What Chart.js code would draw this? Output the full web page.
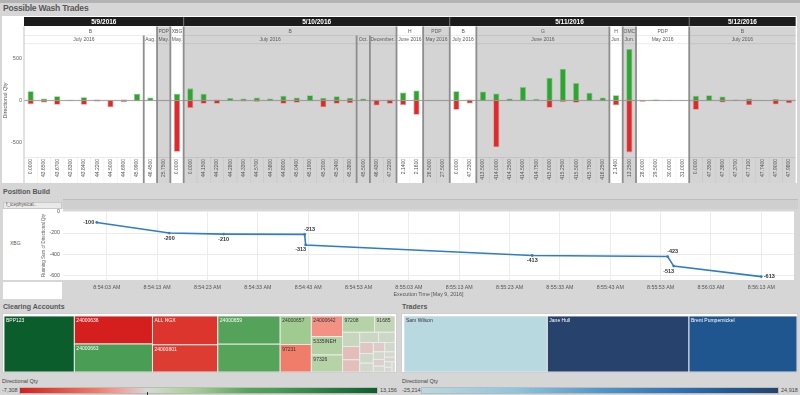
<!DOCTYPE html>
<html><head><meta charset="utf-8">
<script src="https://cdn.jsdelivr.net/npm/chart.js@4.4.1/dist/chart.umd.min.js"></script>
<style>
html,body{margin:0;padding:0;}
body{width:800px;height:395px;overflow:hidden;background:#d6d6d6;position:relative;font-family:"Liberation Sans",Arial,sans-serif;}
.abs{position:absolute;}
.ttl{position:absolute;font-weight:bold;color:#585858;white-space:nowrap;line-height:1;}
.sm{position:absolute;font-size:5.5px;color:#444;white-space:nowrap;line-height:1;}
canvas{position:absolute;display:block;}
</style></head><body>
<div class="abs" style="left:0;top:0;width:800px;height:3px;background:#b3b3b3"></div>
<div class="ttl" style="left:3px;top:4px;font-size:8.6px;letter-spacing:-0.25px">Possible Wash Trades</div>
<div class="abs" style="left:2px;top:16px;width:795px;height:167px;background:#fff"></div>
<canvas id="bars" width="795" height="167" style="left:2px;top:16px"></canvas>

<div class="ttl" style="left:3px;top:188px;font-size:7px">Position Build</div>
<div class="abs" style="left:63px;top:199px;width:735px;height:10px;background:#cfcfcf;border-top:1px solid #bdbdbd;box-sizing:border-box"></div>
<div class="abs" style="left:3px;top:202px;width:59px;height:7px;background:#e9e9e9;border:1px solid #c9c9c9;box-sizing:border-box"></div>
<div class="sm" style="left:6px;top:203px;font-size:4.8px;color:#555">f_icephysical..</div>
<div class="abs" style="left:3px;top:209px;width:60px;height:71px;background:#fff"></div>
<div class="abs" style="left:3px;top:282px;width:59px;height:17px;background:#fff"></div>
<div class="sm" id="rowLabel" style="left:10px;top:241px;font-size:5px;color:#555"></div>
<canvas id="line" width="757" height="95" style="left:41px;top:205px"></canvas>

<div class="ttl" style="left:3px;top:303px;font-size:7px">Clearing Accounts</div>
<div class="abs" style="left:2px;top:313px;width:395px;height:60px;background:#fff;border:1px solid #cfcfcf;box-sizing:border-box"></div>
<canvas id="acct" width="391" height="56" style="left:4px;top:316px"></canvas>
<div class="sm" style="left:2px;top:379px">Directional Qty</div>
<div class="sm" id="acctMin" style="left:2px;top:388px"></div>
<div class="abs" id="acctBar" style="left:19px;top:387px;width:359px;height:7px;border:1px solid #bbb;box-sizing:border-box"></div>
<div class="abs" id="acctZero" style="top:392px;width:1px;height:3px;background:#333"></div>
<div class="sm" id="acctMax" style="left:380px;top:388px"></div>

<div class="ttl" style="left:402px;top:303px;font-size:7px">Traders</div>
<div class="abs" style="left:401px;top:313px;width:397px;height:60px;background:#fff;border:1px solid #cfcfcf;box-sizing:border-box"></div>
<canvas id="trd" width="393" height="56" style="left:404px;top:316px"></canvas>
<div class="sm" style="left:402px;top:379px">Directional Qty</div>
<div class="sm" id="trdMin" style="left:402px;top:388px"></div>
<div class="abs" id="trdBar" style="left:421px;top:387px;width:358px;height:7px;border:1px solid #bbb;box-sizing:border-box"></div>
<div class="sm" id="trdMax" style="left:781px;top:388px"></div>

<script>
// ---------------- DATA ----------------
const dateGroups = [['5/9/2016',12],['5/10/2016',20],['5/11/2016',18],['5/12/2016',8]];
const commodityGroups = [['B',10],['PDP',1],['XBG',1],['B',16],['H',2],['PDP',2],['B',2],['G',10],['H',1],['OMC',1],['PDP',4],['B',8]];
const monthGroups = [['July 2016',9],['Aug.',1],['May.',1],['May.',1],['July 2016',13],['Oct.',1],['December..',2],['June 2016',2],['May 2016',2],['July 2016',2],['June 2016',10],['Jun.',1],['Jun.',1],['May 2016',4],['July 2016',8]];
const priceLabels = ['0.0000','43.6500','43.6700','43.8300','43.8400','44.2200','44.5000','44.6900','45.9900','46.4500','25.7500','0.0000',
 '0.0000','44.1500','44.2200','44.2800','44.3300','44.5700','44.5800','44.8000','45.0400','45.1900','45.2000','45.2400','45.3800','45.5000','46.4300','47.2200','2.1400','2.1610','26.5000','27.5000',
 '0.0000','47.2300','413.5000','414.0000','414.2500','414.5000','414.7500','415.0000','415.2500','415.5000','415.7500','416.2500','2.1400','13.2500','28.0000','29.5000','30.0000','31.0000',
 '0.0000','47.3500','47.3600','47.3700','47.7100','47.7400','47.9000','47.9800'];
const buyQty = [110,25,50,10,40,12,4,12,80,35,3,80,
 145,80,12,30,25,36,25,56,36,64,32,52,32,24,8,12,95,120,3,3,
 110,12,108,84,24,160,20,272,380,208,92,36,64,615,3,12,4,4,
 56,64,48,12,24,4,20,8];
const sellQty = [-45,-25,-50,-3,-50,-12,-80,-20,-10,-3,-3,-613,
 -90,-40,-40,-5,-12,-15,-5,-40,-28,-8,-80,-40,-32,-4,-60,-40,-55,-170,-3,-3,
 -110,-36,-3,-560,-5,-3,-3,-88,-20,-28,-8,-8,-56,-620,-16,-3,-4,-4,
 -112,-8,-24,-4,-56,-4,-48,-32];
const qtyTicks = [-500,0,500];

const positionRow = 'XBG';
const execSeconds = [1,15.4,26.2,42.3,42.5,87.5,114.4,115.6,133]; // seconds after 8:54:00 AM
const runningQty = [-100,-200,-210,-213,-313,-413,-423,-513,-613];
const timeTicks = [3,13,23,33,43,53,63,73,83,93,103,113,123,133];
const runTicks = [0,-200,-400,-600];

const accountNames = ['BPP123','24000636','24000663','ALL NGX','24000801','24000659','','24000657','97231','24000642','5335INEH','97326','97208','91685',
 '','','','','','','','','','','','','','','','','',''];
const accountQty = [13156,-7308,7300,-6290,-5930,5870,5790,2970,-2860,-2150,1910,1770,1740,1110,
 820,-760,-700,640,560,-500,440,400,-360,320,280,-250,220,190,-160,140,120,100];
const traderNames = ['Sam Wilson','Jane Hull','Brent Pumpernickel'];
const traderQty = [-25214,24918,19000];

// ---------------- STYLES ----------------
const PANEL_GRAY = '#d4d4d4';
const acctStops = [[-7308,'#d51f1f'],[-6000,'#dd3b31'],[-2900,'#f07b69'],[-2000,'#f4958a'],[-500,'#dfc6c2'],[0,'#d6d8d3'],[500,'#cdd8c6'],[1800,'#b5d3a6'],[3000,'#9ecb8f'],[5800,'#56a35a'],[7300,'#4a9d54'],[13156,'#0b5e2b']];
const trdStops = [[-25214,'#b9d9e0'],[-12000,'#8cc6df'],[0,'#4f96cb'],[12000,'#2e6db0'],[19000,'#1f5690'],[24918,'#27436d']];

function hex(h){return [parseInt(h.slice(1,3),16),parseInt(h.slice(3,5),16),parseInt(h.slice(5,7),16)];}
function colorFor(v,stops){
  if(v<=stops[0][0]) return stops[0][1];
  for(let i=1;i<stops.length;i++){
    if(v<=stops[i][0]){
      const t=(v-stops[i-1][0])/(stops[i][0]-stops[i-1][0]);
      const a=hex(stops[i-1][1]), b=hex(stops[i][1]);
      return 'rgb('+a.map((c,k)=>Math.round(c+(b[k]-c)*t)).join(',')+')';
    }
  }
  return stops[stops.length-1][1];
}
function lum(c){const m=c.match(/\d+/g);let r,g,b;if(m&&c.startsWith('rgb')){[r,g,b]=m.map(Number);}else{[r,g,b]=hex(c);}return 0.299*r+0.587*g+0.114*b;}

// ---------------- BAR CHART ----------------
const ROW1=1, ROW2=10.5, ROW3=19.5;
const headerPlugin = {
  id:'headers',
  beforeDraw(chart){
    const {ctx, chartArea:ca, scales:{x}} = chart;
    const H = chart.height;
    const edge = i => x.getPixelForValue(i-0.5);
    ctx.save();
    let s=0;
    commodityGroups.forEach((g,k)=>{
      const x0=edge(s), x1=edge(s+g[1]);
      ctx.fillStyle = k%2 ? PANEL_GRAY : '#ffffff';
      ctx.fillRect(x0, ROW2, x1-x0, H-ROW2);
      s+=g[1];
    });
    // date row
    ctx.fillStyle='#1c1c1c';
    ctx.fillRect(ca.left, ROW1, ca.right-ca.left, ROW2-ROW1-0.5);
    ctx.textAlign='center'; ctx.textBaseline='middle';
    s=0;
    dateGroups.forEach((g,k)=>{
      const x0=edge(s), x1=edge(s+g[1]);
      ctx.fillStyle='#ffffff'; ctx.font='bold 6.5px "Liberation Sans", Arial';
      ctx.fillText(g[0],(x0+x1)/2,(ROW1+ROW2)/2);
      if(k>0){ctx.fillStyle='#777';ctx.fillRect(x0-0.5,ROW1,1,ROW2-ROW1-0.5);}
      s+=g[1];
    });
    ctx.font='5px "Liberation Sans", Arial'; ctx.fillStyle='#5a5a5a';
    s=0;
    commodityGroups.forEach(g=>{const x0=edge(s),x1=edge(s+g[1]);ctx.fillText(g[0],(x0+x1)/2,(ROW2+ROW3)/2+0.3);s+=g[1];});
    s=0;
    monthGroups.forEach(g=>{const x0=edge(s),x1=edge(s+g[1]);ctx.fillText(g[0],(x0+x1)/2,(ROW3+ca.top)/2+0.3);s+=g[1];});
    // light row borders
    ctx.fillStyle='rgba(0,0,0,0.13)';
    ctx.fillRect(ca.left, ROW3-0.5, ca.right-ca.left, 0.6);
    ctx.fillRect(ca.left, ca.top-0.5, ca.right-ca.left, 0.6);
    ctx.fillRect(ca.left, ca.bottom, ca.right-ca.left, 0.6);
    // label-area category separators
    ctx.fillStyle='rgba(0,0,0,0.07)';
    for(let i=1;i<priceLabels.length;i++){ctx.fillRect(edge(i)-0.25, ca.bottom, 0.6, H-ca.bottom);}
    ctx.restore();
  },
  afterDatasetsDraw(chart){
    const {ctx, chartArea:ca, scales:{x,y}} = chart;
    const H = chart.height;
    const edge = i => x.getPixelForValue(i-0.5);
    ctx.save();
    const y0=y.getPixelForValue(0);
    ctx.fillStyle='rgba(140,140,140,0.75)';
    ctx.fillRect(ca.left, y0-0.6, ca.right-ca.left, 1.2);
    // separators
    const cb=[]; let s=0; commodityGroups.forEach(g=>{s+=g[1];cb.push(s);});
    const mb=[]; s=0; monthGroups.forEach(g=>{s+=g[1];mb.push(s);});
    ctx.fillStyle='#8e8e8e';
    cb.slice(0,-1).forEach(i=>{ctx.fillRect(edge(i)-0.9, ROW2, 1.8, H-ROW2);});
    mb.slice(0,-1).forEach(i=>{ if(!cb.includes(i)) ctx.fillRect(edge(i)-0.9, ROW3, 1.8, H-ROW3);});
    ctx.fillStyle='#c4c4c4';
    ctx.fillRect(ca.left-0.5, ROW2, 1, H-ROW2);
    ctx.restore();
  }
};

new Chart(document.getElementById('bars'),{
  type:'bar',
  data:{labels:priceLabels,datasets:[
    {label:'Buy',data:buyQty,backgroundColor:'#2fa430',borderColor:'#7cc77c',borderWidth:0.8,barPercentage:0.46,categoryPercentage:1},
    {label:'Sell',data:sellQty,backgroundColor:'#dd2a2a',borderColor:'#ee8a8a',borderWidth:0.8,barPercentage:0.46,categoryPercentage:1}
  ]},
  options:{
    responsive:false,animation:false,maintainAspectRatio:false,
    layout:{padding:{top:28,left:0,right:0,bottom:0}},
    plugins:{legend:{display:false},tooltip:{enabled:false}},
    scales:{
      x:{stacked:true,grid:{display:false,drawTicks:false},border:{display:false},
         ticks:{autoSkip:false,maxRotation:90,minRotation:90,font:{size:5,family:'"Liberation Sans", Arial'},color:'#555',padding:2},
         afterFit:s=>{s.height=26;}},
      y:{stacked:true,min:-675,max:675,
         afterBuildTicks:s=>{s.ticks=qtyTicks.map(v=>({value:v}));},
         grid:{display:false,drawTicks:false},border:{display:false},
         ticks:{font:{size:5.5,family:'"Liberation Sans", Arial'},color:'#666',padding:2},
         title:{display:true,text:'Directional Qty',font:{size:5.5,family:'"Liberation Sans", Arial'},color:'#555',padding:{top:0,bottom:0}},
         afterFit:s=>{s.width=22;}}
    }
  },
  plugins:[headerPlugin]
});

// ---------------- LINE CHART ----------------
document.getElementById('rowLabel').textContent = positionRow;
function fmtTime(sec){
  const t=8*3600+54*60+sec; const h=Math.floor(t/3600), m=Math.floor((t%3600)/60), s=Math.round(t%60);
  return h+':'+String(m).padStart(2,'0')+':'+String(s).padStart(2,'0')+' AM';
}
const labelAnchor=['left','below','below','aboveRight','belowLeft','below','aboveRight','belowLeft','right'];
const linePlugin={
  id:'lineDeco',
  beforeDraw(chart){const {ctx,chartArea:ca}=chart;ctx.save();ctx.fillStyle='#fff';ctx.fillRect(ca.left,ca.top,ca.right-ca.left,ca.bottom-ca.top);ctx.restore();},
  afterDatasetsDraw(chart){
    const {ctx}=chart; const meta=chart.getDatasetMeta(0);
    ctx.save(); ctx.font='bold 5.5px "Liberation Sans", Arial'; ctx.fillStyle='#333'; ctx.textBaseline='middle';
    meta.data.forEach((p,i)=>{
      const t=String(runningQty[i]); const a=labelAnchor[i];
      let x=p.x,y=p.y;
      if(a==='left'){ctx.textAlign='right';x-=2.5;}
      else if(a==='right'){ctx.textAlign='left';x+=2.5;}
      else if(a==='below'){ctx.textAlign='center';y+=5;}
      else if(a==='aboveRight'){ctx.textAlign='left';y-=5;x-=0.5;}
      else if(a==='belowLeft'){ctx.textAlign='right';y+=5;x+=0.5;}
      ctx.fillText(t,x,y);
    });
    ctx.restore();
  }
};
new Chart(document.getElementById('line'),{
  type:'line',
  data:{datasets:[{data:execSeconds.map((s,i)=>({x:s,y:runningQty[i]})),borderColor:'#2f7ec4',backgroundColor:'#2f7ec4',borderWidth:1.6,pointRadius:1.4,pointBorderWidth:0,tension:0}]},
  options:{
    responsive:false,animation:false,maintainAspectRatio:false,
    layout:{padding:{top:4,left:0,right:0,bottom:0}},
    plugins:{legend:{display:false},tooltip:{enabled:false}},
    scales:{
      x:{type:'linear',min:-5.7,max:139.5,
         afterBuildTicks:s=>{s.ticks=timeTicks.map(v=>({value:v}));},
         ticks:{callback:v=>fmtTime(v),font:{size:5.3,family:'"Liberation Sans", Arial'},color:'#555',maxRotation:0,autoSkip:false,padding:4},
         grid:{color:'#ececec',drawTicks:false},border:{display:false},
         title:{display:true,text:'Execution Time [May 9, 2016]',font:{size:5.3,family:'"Liberation Sans", Arial'},color:'#555',padding:{top:0,bottom:2}},
         afterFit:s=>{s.height=20;}},
      y:{min:-645,max:7,
         afterBuildTicks:s=>{s.ticks=runTicks.map(v=>({value:v}));},
         ticks:{font:{size:5.3,family:'"Liberation Sans", Arial'},color:'#555',padding:3},
         grid:{color:'#ececec',drawTicks:false},border:{display:false},
         title:{display:true,text:'Running Sum of Directional Qty',font:{size:4.5,family:'"Liberation Sans", Arial'},color:'#666',padding:0},
         afterFit:s=>{s.width=22;}}
    }
  },
  plugins:[linePlugin]
});

// ---------------- TREEMAPS ----------------
function squarify(vals,W,H,target){
  const idx=vals.map((v,i)=>i).sort((a,b)=>Math.abs(vals[b])-Math.abs(vals[a]));
  const total=idx.reduce((s,i)=>s+Math.abs(vals[i]),0);
  const areas=idx.map(i=>Math.abs(vals[i])*W*H/total);
  const out=new Array(vals.length);
  let x=0,y=0,w=W,h=H,k=0;
  const cost=(row,vertical)=>{
    const sum=row.reduce((a,b)=>a+b,0); const side=vertical?h:w; const th=sum/side; let worst=0;
    for(const a of row){const len=a/th; const r=vertical?th/len:len/th; const c=Math.max(r/target,target/r); if(c>worst)worst=c;}
    return worst;
  };
  while(k<areas.length){
    const vertical=w>=h;
    let row=[areas[k]], best=cost(row,vertical), j=k+1;
    while(j<areas.length){const t=row.concat(areas[j]);const c=cost(t,vertical);if(c<=best){row=t;best=c;j++;}else break;}
    const sum=row.reduce((a,b)=>a+b,0);
    if(vertical){const th=sum/h;let yy=y;row.forEach((a,m)=>{const len=a/th;out[idx[k+m]]={x:x,y:yy,w:th,h:len};yy+=len;});x+=th;w-=th;}
    else{const th=sum/w;let xx=x;row.forEach((a,m)=>{const len=a/th;out[idx[k+m]]={x:xx,y:y,w:len,h:th};xx+=len;});y+=th;h-=th;}
    k=j;
  }
  return out;
}
function treemap(id,names,values,stops){
  new Chart(document.getElementById(id),{
    type:'scatter',
    data:{datasets:[{data:[]}]},
    options:{responsive:false,animation:false,maintainAspectRatio:false,layout:{padding:0},
      plugins:{legend:{display:false},tooltip:{enabled:false}},
      scales:{x:{display:false,min:0,max:1},y:{display:false,min:0,max:1,reverse:true}}},
    plugins:[{id:'tm',afterDatasetsDraw(chart){
      const {ctx,scales:{x,y}}=chart;
      const W=x.getPixelForValue(1)-x.getPixelForValue(0), H=y.getPixelForValue(1)-y.getPixelForValue(0);
      const rects=squarify(values,W,H,1.5);
      ctx.save();
      rects.forEach((r,i)=>{
        const x0=x.getPixelForValue(r.x/W), x1=x.getPixelForValue((r.x+r.w)/W);
        const y0=y.getPixelForValue(r.y/H), y1=y.getPixelForValue((r.y+r.h)/H);
        const c=colorFor(values[i],stops);
        ctx.fillStyle=c; ctx.fillRect(x0,y0,x1-x0,y1-y0);
        ctx.strokeStyle='rgba(235,235,235,0.95)'; ctx.lineWidth=1; ctx.strokeRect(x0,y0,x1-x0,y1-y0);
        if(names[i] && (x1-x0)>20 && (y1-y0)>9){
          ctx.fillStyle = lum(c)<150 ? '#ffffff' : '#333333';
          ctx.font='5px "Liberation Sans", Arial'; ctx.textAlign='left'; ctx.textBaseline='top';
          ctx.fillText(names[i],x0+2,y0+2.5);
        }
      });
      ctx.restore();
    }}]
  });
}
treemap('acct',accountNames,accountQty,acctStops);
treemap('trd',traderNames,traderQty,trdStops);

// legends
function grad(stops){const mn=stops[0][0],mx=stops[stops.length-1][0];return 'linear-gradient(to right,'+stops.map(s=>s[1]+' '+((s[0]-mn)/(mx-mn)*100).toFixed(2)+'%').join(',')+')';}
const fmt=v=>v.toLocaleString('en-US');
document.getElementById('acctBar').style.background=grad(acctStops);
document.getElementById('trdBar').style.background=grad(trdStops);
document.getElementById('acctMin').textContent=fmt(Math.min(...accountQty));
document.getElementById('acctMax').textContent=fmt(Math.max(...accountQty));
document.getElementById('trdMin').textContent=fmt(Math.min(...traderQty));
document.getElementById('trdMax').textContent=fmt(Math.max(...traderQty));
(function(){const mn=Math.min(...accountQty),mx=Math.max(...accountQty);document.getElementById('acctZero').style.left=(19+(0-mn)/(mx-mn)*359)+'px';})();
</script>
</body></html>
